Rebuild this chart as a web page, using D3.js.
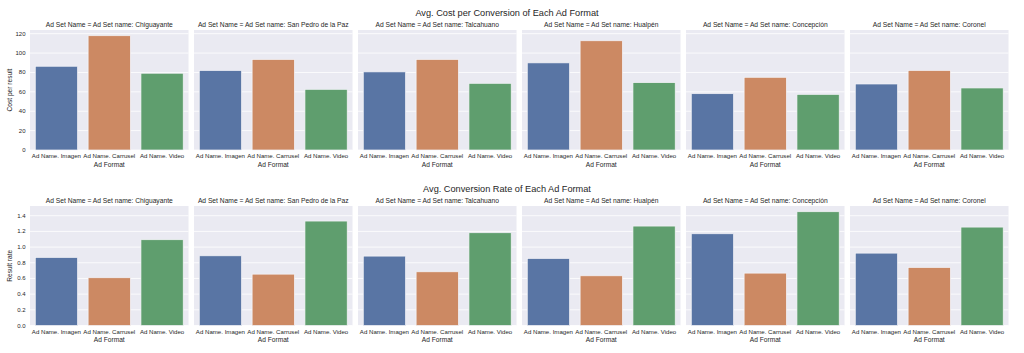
<!DOCTYPE html>
<html>
<head>
<meta charset="utf-8">
<script src="https://cdn.jsdelivr.net/npm/d3@7"></script>
<style>
  body { margin: 0; background: #fff; }
  text { font-family: "Liberation Sans", Arial, sans-serif; fill: #262626; }
</style>
</head>
<body>
<div id="viz"></div>
<script>
const width = 1024, height = 353;

// data
const cities = ["Chiguayante", "San Pedro de la Paz", "Talcahuano", "Hualpén", "Concepción", "Coronel"];
const formats = ["Ad Name. Imagen", "Ad Name. Carrusel", "Ad Name. Video"];
const costPerResult = [
  [86.4, 117.9, 79.2],
  [82.0, 93.4, 62.6],
  [80.6, 93.4, 68.8],
  [89.9, 112.7, 69.5],
  [58.1, 75.0, 57.4],
  [68.1, 82.0, 64.0]
];
const resultRate = [
  [0.868, 0.609, 1.094],
  [0.889, 0.655, 1.332],
  [0.885, 0.685, 1.183],
  [0.855, 0.634, 1.268],
  [1.170, 0.668, 1.451],
  [0.923, 0.740, 1.255]
];
const costTicks = [0, 20, 40, 60, 80, 100, 120];
const rateTicks = [0, 0.2, 0.4, 0.6, 0.8, 1.0, 1.2, 1.4];

const colors = ["#5975a4", "#cc8963", "#5f9e6e"];

const svg = d3.select("#viz").append("svg")
  .attr("width", width)
  .attr("height", height);

const panelLeft = 30, panelW = 158.5, panelStep = 164;

const rows = [
  { title: "Avg. Cost per Conversion of Each Ad Format", ylabel: "Cost per result",
    values: costPerResult, ticks: costTicks, fmt: d3.format("d"),
    top: 30, bottom: 150, ymax: 123.8 },
  { title: "Avg. Conversion Rate of Each Ad Format", ylabel: "Result rate",
    values: resultRate, ticks: rateTicks, fmt: d3.format(".1f"),
    top: 206, bottom: 325.5, ymax: 1.524 }
];

rows.forEach(row => {
  const y = d3.scaleLinear().domain([0, row.ymax]).range([row.bottom, row.top]);

  // row title
  svg.append("text")
    .attr("x", 507)
    .attr("y", row.top - 14.5)
    .attr("text-anchor", "middle")
    .attr("font-size", "9.2px")
    .text(row.title);

  // y label
  svg.append("text")
    .attr("transform", `translate(12, ${(row.top + row.bottom) / 2}) rotate(-90)`)
    .attr("text-anchor", "middle")
    .attr("font-size", "6.6px")
    .text(row.ylabel);

  cities.forEach((city, ci) => {
    const x0 = panelLeft + ci * panelStep;
    const x = d3.scaleBand().domain(formats)
      .range([x0, x0 + panelW])
      .paddingInner(0.2).paddingOuter(0.1);

    const g = svg.append("g");

    g.append("rect")
      .attr("x", x0).attr("y", row.top)
      .attr("width", panelW).attr("height", row.bottom - row.top)
      .attr("fill", "#eaeaf2");

    // grid
    g.selectAll("line.grid")
      .data(row.ticks)
      .enter().append("line")
      .attr("x1", x0).attr("x2", x0 + panelW)
      .attr("y1", d => y(d)).attr("y2", d => y(d))
      .attr("stroke", "#fff").attr("stroke-width", 0.8);

    // bars
    g.selectAll("rect.bar")
      .data(row.values[ci])
      .enter().append("rect")
      .attr("class", "bar")
      .attr("x", (d, i) => x(formats[i]))
      .attr("y", d => y(d))
      .attr("width", x.bandwidth())
      .attr("height", d => y(0) - y(d))
      .attr("fill", (d, i) => colors[i])
      .attr("stroke", "#f4f4f8")
      .attr("stroke-width", 0.7);

    // x tick labels
    g.selectAll("text.xt")
      .data(formats)
      .enter().append("text")
      .attr("x", d => x(d) + x.bandwidth() / 2)
      .attr("y", row.bottom + 8.2)
      .attr("text-anchor", "middle")
      .attr("font-size", "6.1px")
      .text(d => d);

    g.append("text")
      .attr("x", x0 + panelW / 2)
      .attr("y", row.bottom + 16.5)
      .attr("text-anchor", "middle")
      .attr("font-size", "6.6px")
      .text("Ad Format");

    // panel title
    g.append("text")
      .attr("x", x0 + panelW / 2)
      .attr("y", row.top - 3)
      .attr("text-anchor", "middle")
      .attr("font-size", "6.7px")
      .text("Ad Set Name = Ad Set name: " + city);

    if (ci === 0) {
      g.selectAll("text.yt")
        .data(row.ticks)
        .enter().append("text")
        .attr("x", x0 - 4.5)
        .attr("y", d => y(d) + 2)
        .attr("text-anchor", "end")
        .attr("font-size", "6px")
        .text(d => row.fmt(d));
    }
  });
});
</script>
</body>
</html>
